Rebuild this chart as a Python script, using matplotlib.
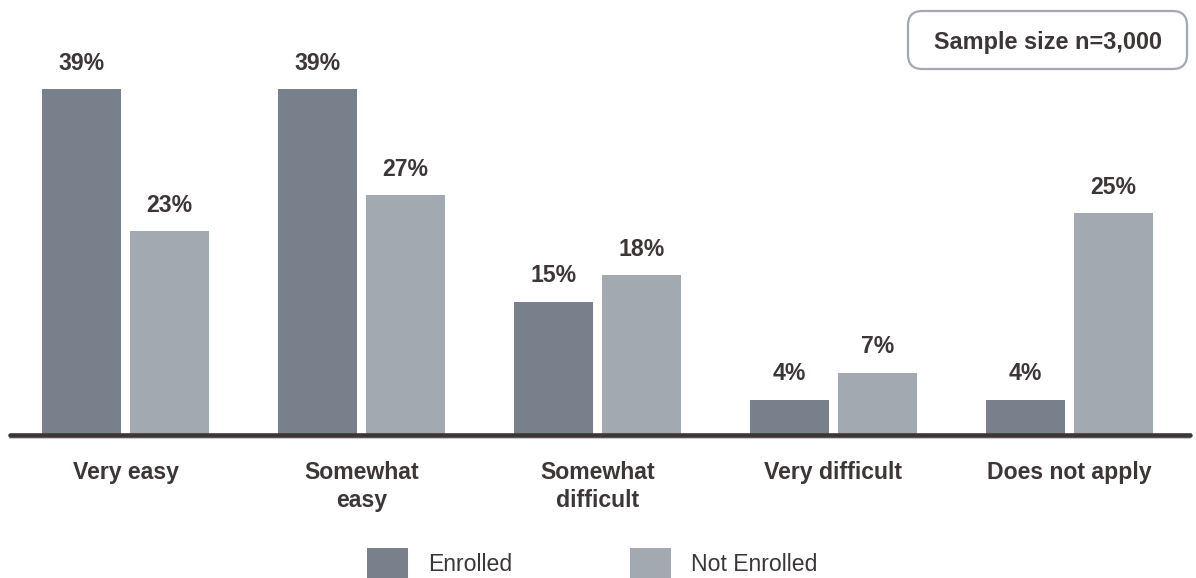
import matplotlib
matplotlib.use("Agg")
import matplotlib.pyplot as plt
from matplotlib.patches import FancyBboxPatch, Patch
import numpy as np

categories = ["Very easy", "Somewhat\neasy", "Somewhat\ndifficult", "Very difficult", "Does not apply"]
enrolled = [39, 39, 15, 4, 4]
not_enrolled = [23, 27, 18, 7, 25]
series_names = ["Enrolled", "Not Enrolled"]
sample_note = "Sample size n=3,000"

C_ENR = "#77808b"
C_NOT = "#a3a9b0"
C_TXT = "#3d3636"

plt.rcParams['font.family'] = ['Liberation Sans', 'DejaVu Sans']

W, H = 1196, 578
fig = plt.figure(figsize=(W / 100, H / 100), dpi=100)

# axes in pixel geometry
ax_left, ax_right = 10, 1190
ax_bottom_px = 435  # from top
ax = fig.add_axes([ax_left / W, 1 - ax_bottom_px / H, (ax_right - ax_left) / W, ax_bottom_px / H])
ax.set_axis_off()

pitch = 236.0
px_per_pct = (ax_bottom_px - 89) / 39.0
ax.set_xlim(-(125.5 - ax_left) / pitch, (ax_right - 125.5) / pitch)
ax.set_ylim(0, ax_bottom_px / px_per_pct)

x = np.arange(len(categories))
bw = 79 / pitch
off = 44 / pitch
b1 = ax.bar(x - off, enrolled, width=bw, color=C_ENR, label=series_names[0], zorder=2)
b2 = ax.bar(x + off, not_enrolled, width=bw, color=C_NOT, label=series_names[1], zorder=2)

fs = 16.6
for bars, vals in ((b1, enrolled), (b2, not_enrolled)):
    for r, v in zip(bars, vals):
        ax.annotate(f"{v}%", (r.get_x() + r.get_width() / 2, v), xytext=(0, 14),
                    textcoords="offset points", ha="center", va="baseline",
                    fontsize=fs, fontweight="bold", color=C_TXT, clip_on=False)

# baseline
xl = ax.get_xlim()
ax.plot(xl, [0, 0], color="#bdbdbd", lw=1.6 * 0.72, clip_on=False, zorder=3,
        transform=ax.transData + matplotlib.transforms.ScaledTranslation(0, -3.2 / 100, fig.dpi_scale_trans))
ax.plot(xl, [0, 0], color=C_TXT, lw=4.6 * 0.72, solid_capstyle="round", clip_on=False, zorder=4)

# category labels
for xi, lab in zip(x, categories):
    ax.annotate(lab, (xi, 0), xytext=(0, -19), textcoords="offset points",
                ha="center", va="top", fontsize=fs, fontweight="bold", color=C_TXT,
                linespacing=1.25, annotation_clip=False)

# legend
handles = [Patch(facecolor=C_ENR), Patch(facecolor=C_NOT)]
leg = fig.legend(handles, series_names, loc="center left",
                 bbox_to_anchor=(367 / W, 1 - 564 / H), ncol=2, frameon=False,
                 fontsize=fs, handlelength=1.79, handleheight=1.79, handletextpad=0.87,
                 columnspacing=5.1, borderpad=0, borderaxespad=0)
for t in leg.get_texts():
    t.set_color(C_TXT)

# sample size box
bx0, by0, bx1, by1 = 908, 11, 1187, 69
box = FancyBboxPatch((bx0 / W, 1 - by1 / H), (bx1 - bx0) / W, (by1 - by0) / H,
                     boxstyle="round,pad=0,rounding_size=0.012", transform=fig.transFigure,
                     facecolor="white", edgecolor="#a3a9b0", lw=1.6, mutation_aspect=W / H)
fig.add_artist(box)
fig.text((bx0 + bx1) / 2 / W, 1 - 43 / H, sample_note, ha="center", va="center",
         fontsize=16.9, fontweight="bold", color=C_TXT)

fig.savefig("out.png", dpi=100)
